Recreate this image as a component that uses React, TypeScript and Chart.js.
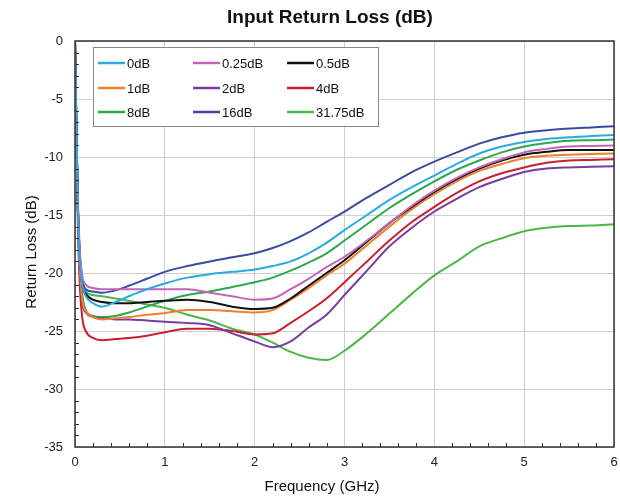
import React, { useEffect, useRef } from "react";
import { Chart, registerables } from "chart.js";

Chart.register(...registerables);

const FREQ = [0, 0.015, 0.03, 0.05, 0.08, 0.12, 0.2, 0.3, 0.45, 0.6, 0.8, 1.0, 1.25, 1.5, 1.75, 2.0, 2.2, 2.4, 2.6, 2.8, 3.0, 3.25, 3.5, 3.75, 4.0, 4.25, 4.5, 4.75, 5.0, 5.25, 5.5, 5.75, 6.0];

const RL_0dB = [0, -7, -14, -18.5, -21.0, -22.0, -22.6, -22.9, -22.5, -22.0, -21.4, -20.9, -20.4, -20.1, -19.9, -19.7, -19.4, -19.0, -18.3, -17.4, -16.3, -15.0, -13.7, -12.6, -11.6, -10.6, -9.7, -9.1, -8.7, -8.45, -8.3, -8.2, -8.1];
const RL_025dB = [0, -7, -13, -17.5, -20.2, -21.0, -21.3, -21.4, -21.4, -21.4, -21.4, -21.4, -21.4, -21.7, -22.0, -22.3, -22.2, -21.4, -20.5, -19.5, -18.6, -17.2, -15.7, -14.2, -12.9, -11.8, -10.9, -10.2, -9.6, -9.3, -9.1, -9.05, -9.0];
const RL_05dB = [0, -7, -13.5, -18, -21.0, -21.8, -22.3, -22.5, -22.6, -22.6, -22.5, -22.4, -22.3, -22.5, -22.9, -23.1, -23.0, -22.2, -21.1, -20.0, -18.9, -17.3, -15.7, -14.3, -13.0, -11.9, -11.0, -10.3, -9.8, -9.55, -9.4, -9.4, -9.4];
const RL_1dB = [0, -7.5, -14, -19, -22.3, -23.3, -23.8, -24.0, -23.9, -23.8, -23.6, -23.45, -23.2, -23.2, -23.3, -23.4, -23.2, -22.3, -21.3, -20.2, -19.2, -17.6, -16.0, -14.5, -13.2, -12.1, -11.2, -10.6, -10.1, -9.9, -9.8, -9.75, -9.7];
const RL_2dB = [0, -7.5, -14, -19, -22.5, -23.4, -23.8, -23.9, -24.0, -24.0, -24.1, -24.2, -24.3, -24.5, -25.2, -25.9, -26.4, -25.9, -24.7, -23.6, -21.9, -19.8, -17.7, -16.1, -14.7, -13.6, -12.6, -11.9, -11.3, -11.0, -10.9, -10.85, -10.8];
const RL_4dB = [0, -8, -15, -20.5, -23.8, -25.0, -25.6, -25.8, -25.7, -25.6, -25.4, -25.1, -24.8, -24.8, -25.0, -25.3, -25.2, -24.3, -23.3, -22.2, -20.8, -19.0, -17.2, -15.6, -14.3, -13.1, -12.1, -11.4, -10.9, -10.5, -10.3, -10.25, -10.2];
const RL_8dB = [0, -7.5, -14, -18.5, -21.8, -23.2, -23.7, -23.8, -23.7, -23.4, -22.9, -22.4, -21.9, -21.6, -21.2, -20.8, -20.4, -19.8, -19.1, -18.3, -17.2, -15.8, -14.4, -13.2, -12.1, -11.1, -10.3, -9.6, -9.1, -8.8, -8.6, -8.55, -8.5];
const RL_16dB = [0, -7, -13.5, -18, -20.5, -21.4, -21.6, -21.7, -21.5, -21.1, -20.5, -19.9, -19.4, -19.0, -18.65, -18.3, -17.85, -17.25, -16.5, -15.6, -14.7, -13.5, -12.4, -11.3, -10.4, -9.6, -8.85, -8.3, -7.9, -7.7, -7.55, -7.45, -7.35];
const RL_3175dB = [0, -7, -13.5, -18, -20.8, -21.6, -21.9, -22.0, -22.2, -22.4, -22.7, -23.0, -23.6, -24.1, -24.8, -25.3, -26.0, -26.8, -27.3, -27.5, -26.7, -25.2, -23.5, -21.8, -20.2, -19.0, -17.7, -17.0, -16.4, -16.1, -15.95, -15.9, -15.8];

const SERIES_LABELS = ["0dB", "0.25dB", "0.5dB", "1dB", "2dB", "4dB", "8dB", "16dB", "31.75dB"];
const SERIES_VALUES = [RL_0dB, RL_025dB, RL_05dB, RL_1dB, RL_2dB, RL_4dB, RL_8dB, RL_16dB, RL_3175dB];
const SERIES_COLORS = ["#2aaae2", "#c464b8", "#111111", "#f07f2a", "#7a3ca0", "#c8202e", "#2ca94f", "#3a4ba0", "#4cb848"];

const FONT = "'Liberation Sans', Arial, sans-serif";

const decorPlugin = {
  id: "decor",
  afterDraw(chart: any) {
    const ctx = chart.ctx;
    const { left, right, top, bottom } = chart.chartArea;
    const xs = chart.scales.x;
    const ys = chart.scales.y;
    ctx.save();
    ctx.strokeStyle = "#333";
    ctx.lineWidth = 1;
    for (let v = -35; v <= 0; v++) {
      if (v % 5 === 0) continue;
      const y = Math.round(ys.getPixelForValue(v)) + 0.5;
      ctx.beginPath();
      ctx.moveTo(left, y);
      ctx.lineTo(left + 4, y);
      ctx.stroke();
    }
    for (let i = 1; i < 30; i++) {
      if (i % 5 === 0) continue;
      const x = Math.round(xs.getPixelForValue(i * 0.2)) + 0.5;
      ctx.beginPath();
      ctx.moveTo(x, bottom);
      ctx.lineTo(x, bottom - 4);
      ctx.stroke();
    }
    ctx.strokeStyle = "#333";
    ctx.lineWidth = 1.5;
    ctx.strokeRect(left, top, right - left, bottom - top);

    ctx.fillStyle = "#111";
    ctx.textAlign = "center";
    ctx.textBaseline = "middle";
    ctx.font = `bold 19px ${FONT}`;
    ctx.fillText("Input Return Loss (dB)", 330, 18);
    ctx.font = `15px ${FONT}`;
    ctx.fillText("Frequency (GHz)", 322, 487);
    ctx.save();
    ctx.translate(32, 252);
    ctx.rotate(-Math.PI / 2);
    ctx.fillText("Return Loss (dB)", 0, 0);
    ctx.restore();

    const bx = 93, by = 47, bw = 285, bh = 79;
    ctx.fillStyle = "#fff";
    ctx.fillRect(bx, by, bw, bh);
    ctx.strokeStyle = "#888";
    ctx.lineWidth = 1;
    ctx.strokeRect(bx + 0.5, by + 0.5, bw, bh);
    const colX = [98, 193, 287];
    const rowY = [63, 88, 112];
    ctx.font = `13px ${FONT}`;
    ctx.textAlign = "left";
    ctx.textBaseline = "middle";
    chart.data.datasets.forEach((ds: any, i: number) => {
      const cx = colX[i % 3];
      const cy = rowY[Math.floor(i / 3)];
      ctx.strokeStyle = ds.borderColor;
      ctx.lineWidth = 2.5;
      ctx.beginPath();
      ctx.moveTo(cx, cy);
      ctx.lineTo(cx + 27, cy);
      ctx.stroke();
      ctx.fillStyle = "#111";
      ctx.fillText(ds.label, cx + 29, cy + 1);
    });
    ctx.restore();
  },
};

export default function App() {
  const ref = useRef<HTMLCanvasElement>(null);
  useEffect(() => {
    document.body.style.margin = "0";
    const datasets = SERIES_LABELS.map((label, i) => ({
      label,
      data: FREQ.map((f, j) => ({ x: f, y: SERIES_VALUES[i][j] })),
      borderColor: SERIES_COLORS[i],
      backgroundColor: SERIES_COLORS[i],
      borderWidth: 2,
      pointRadius: 0,
      cubicInterpolationMode: "monotone" as const,
      fill: false,
    }));
    const chart = new Chart(ref.current!, {
      type: "line",
      data: { datasets },
      plugins: [decorPlugin],
      options: {
        responsive: false,
        animation: false,
        layout: { padding: { top: 41, right: 6, left: 0, bottom: 0 } },
        plugins: { legend: { display: false }, title: { display: false }, tooltip: { enabled: false } },
        scales: {
          x: {
            type: "linear",
            min: 0,
            max: 6,
            ticks: { stepSize: 1, color: "#222", font: { family: FONT, size: 13 }, padding: 8 },
            grid: { color: "#cfcfcf", drawTicks: false, lineWidth: 1 },
            border: { display: false },
            afterFit(scale: any) { scale.height = 51; scale.paddingRight = 0; scale.paddingLeft = 0; },
          },
          y: {
            type: "linear",
            min: -35,
            max: 0,
            ticks: { stepSize: 5, color: "#222", font: { family: FONT, size: 13 }, padding: 12 },
            grid: { color: "#cfcfcf", drawTicks: false, lineWidth: 1 },
            border: { display: false },
            afterFit(scale: any) { scale.width = 75; scale.paddingTop = 0; scale.paddingBottom = 0; },
          },
        },
      },
    });
    return () => chart.destroy();
  }, []);
  return <canvas ref={ref} width={620} height={498} style={{ display: "block" }} />;
}
